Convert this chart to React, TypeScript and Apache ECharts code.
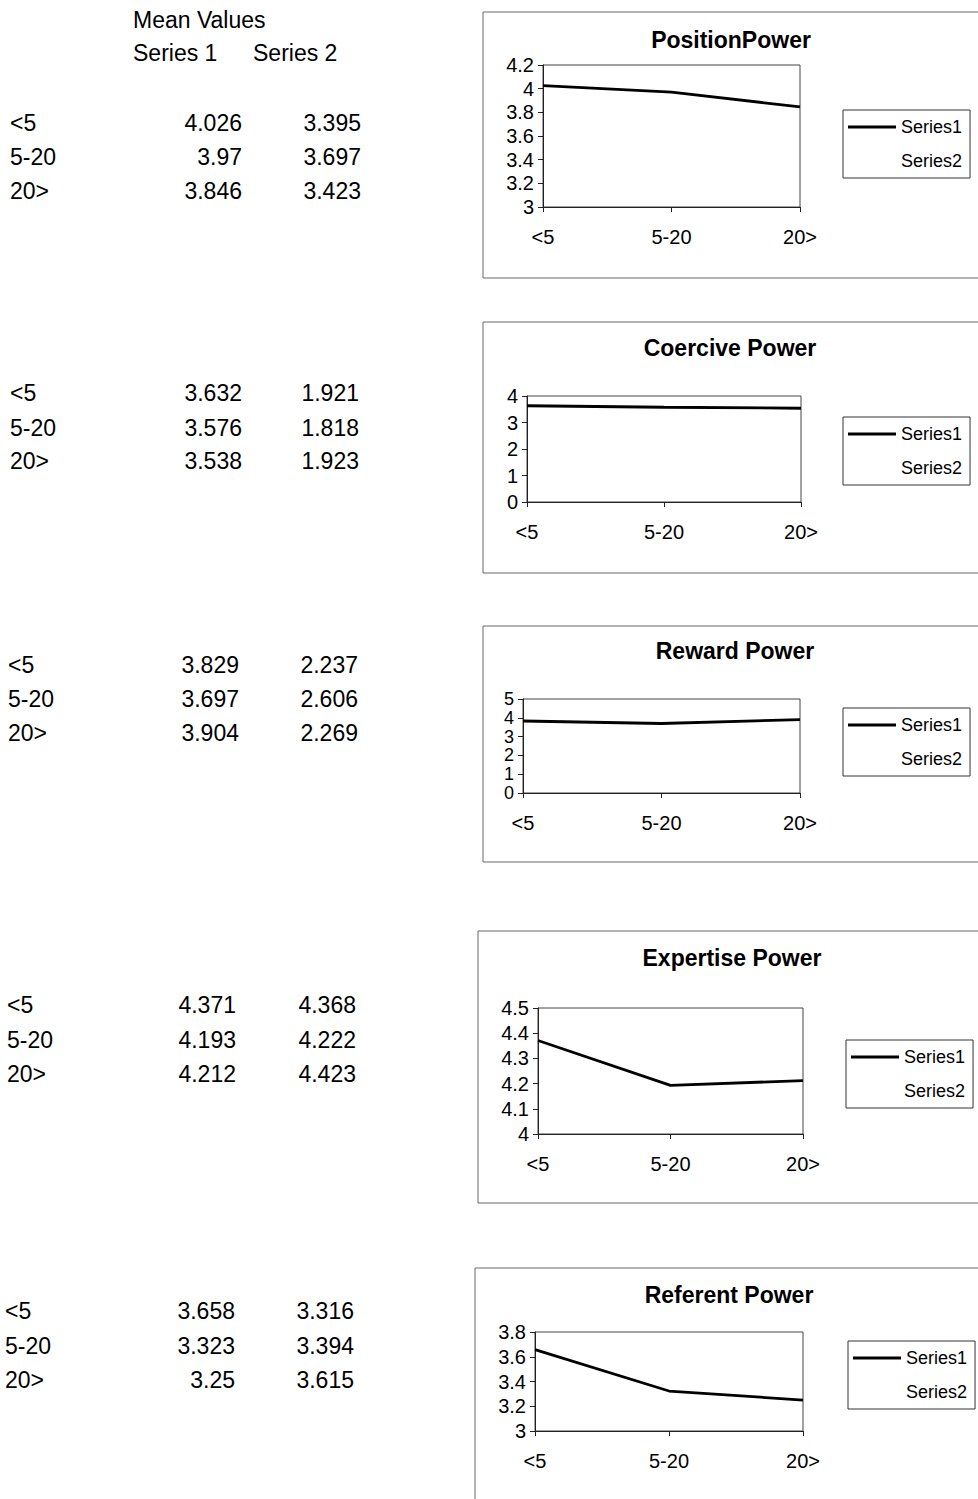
import React, { useEffect, useRef } from "react";
import * as echarts from "echarts";

const categories = ["<5", "5-20", "20>"];
const titles = ["PositionPower", "Coercive Power", "Reward Power", "Expertise Power", "Referent Power"];
const seriesNames = ["Series1", "Series2"];
const headerTitle = "Mean Values";
const headerCols = ["Series 1", "Series 2"];

const position1 = [4.026, 3.97, 3.846];
const position2 = [3.395, 3.697, 3.423];
const coercive1 = [3.632, 3.576, 3.538];
const coercive2 = [1.921, 1.818, 1.923];
const reward1 = [3.829, 3.697, 3.904];
const reward2 = [2.237, 2.606, 2.269];
const expertise1 = [4.371, 4.193, 4.212];
const expertise2 = [4.368, 4.222, 4.423];
const referent1 = [3.658, 3.323, 3.25];
const referent2 = [3.316, 3.394, 3.615];

const series1Values = [position1, coercive1, reward1, expertise1, referent1];
const series2Values = [position2, coercive2, reward2, expertise2, referent2];

const yMins = [3, 0, 0, 4, 3];
const yMaxs = [4.2, 4, 5, 4.5, 3.8];
const yIntervals = [0.2, 1, 1, 0.1, 0.2];

// layout (positions and sizes only)
const layout = [
  { box: [483, 12, 520, 266], grid: [543, 65, 257, 142], title: [731, 28], legend: [843, 110], rows: [123, 157, 191], labelX: 10, col1: 242, col2: 361, ySize: 20 },
  { box: [483, 322, 520, 251], grid: [527, 396, 274, 106], title: [730, 336], legend: [843, 417], rows: [393, 428, 461], labelX: 10, col1: 242, col2: 359, ySize: 20 },
  { box: [483, 626, 520, 236], grid: [523, 699, 277, 94], title: [735, 639], legend: [843, 708], rows: [665, 699, 733], labelX: 8, col1: 239, col2: 358, ySize: 18 },
  { box: [478, 931, 520, 272], grid: [538, 1008, 265, 126], title: [732, 946], legend: [846, 1040], rows: [1005, 1040, 1074], labelX: 7, col1: 236, col2: 356, ySize: 20 },
  { box: [475, 1268, 520, 260], grid: [535, 1332, 268, 99], title: [729, 1283], legend: [848, 1341], rows: [1311, 1346, 1380], labelX: 5, col1: 235, col2: 354, ySize: 20 },
];

const FONT = "'Liberation Sans', Arial, Helvetica, sans-serif";

export default function App() {
  const ref = useRef<HTMLDivElement>(null);

  useEffect(() => {
    if (!ref.current) return;
    const chart = echarts.init(ref.current, null, { renderer: "svg" });

    const txt = (x: number, y: number, text: string, align: string) => ({
      type: "text",
      x,
      y,
      style: { text, fontSize: 23, fontFamily: FONT, fill: "#000", align, verticalAlign: "middle" },
    });

    const graphic: any[] = [];
    graphic.push(txt(133, 20, headerTitle, "left"));
    graphic.push(txt(133, 53, headerCols[0], "left"));
    graphic.push(txt(253, 53, headerCols[1], "left"));

    layout.forEach((p, i) => {
      graphic.push({
        type: "rect",
        shape: { x: p.box[0], y: p.box[1], width: p.box[2], height: p.box[3] },
        style: { fill: "none", stroke: "#666", lineWidth: 1 },
        z: 0,
      });
      categories.forEach((c, r) => {
        graphic.push(txt(p.labelX, p.rows[r], c, "left"));
        graphic.push(txt(p.col1, p.rows[r], String(series1Values[i][r]), "right"));
        graphic.push(txt(p.col2, p.rows[r], String(series2Values[i][r]), "right"));
      });
    });

    const option: any = {
      animation: false,
      backgroundColor: "#fff",
      textStyle: { fontFamily: FONT },
      title: layout.map((p, i) => ({
        text: titles[i],
        left: p.title[0],
        top: p.title[1],
        textAlign: "center",
        padding: 0,
        textStyle: { fontSize: 23, fontWeight: "bold", color: "#000", fontFamily: FONT },
      })),
      legend: layout.map((p) => ({
        orient: "vertical",
        left: p.legend[0],
        top: p.legend[1],
        borderColor: "#333",
        borderWidth: 1,
        padding: [8, 8, 8, 5],
        itemWidth: 48,
        itemHeight: 3,
        itemGap: 16,
        selectedMode: false,
        textStyle: { fontSize: 18, color: "#000", fontFamily: FONT },
        data: [
          { name: seriesNames[0], icon: "rect", itemStyle: { color: "#000" } },
          { name: seriesNames[1], icon: "none" },
        ],
      })),
      grid: layout.map((p) => ({
        left: p.grid[0],
        top: p.grid[1],
        width: p.grid[2],
        height: p.grid[3],
        show: true,
        borderColor: "#444",
        borderWidth: 1,
        backgroundColor: "transparent",
      })),
      xAxis: layout.map((_, i) => ({
        type: "category",
        gridIndex: i,
        data: categories,
        boundaryGap: false,
        axisLine: { lineStyle: { color: "#222", width: 1 } },
        axisTick: { show: true, length: 5, lineStyle: { color: "#222" } },
        axisLabel: { color: "#000", fontSize: 20, margin: 20, fontFamily: FONT },
        splitLine: { show: false },
      })),
      yAxis: layout.map((p, i) => ({
        type: "value",
        gridIndex: i,
        min: yMins[i],
        max: yMaxs[i],
        interval: yIntervals[i],
        axisLine: { show: true, lineStyle: { color: "#222", width: 1 } },
        axisTick: { show: true, length: 5, lineStyle: { color: "#222" } },
        axisLabel: {
          color: "#000",
          fontSize: p.ySize,
          lineHeight: p.ySize - 2,
          margin: 9,
          fontFamily: FONT,
          showMinLabel: true,
          showMaxLabel: true,
          hideOverlap: false,
        },
        splitLine: { show: false },
      })),
      series: layout.flatMap((_, i) => [
        {
          name: seriesNames[0],
          type: "line",
          xAxisIndex: i,
          yAxisIndex: i,
          data: series1Values[i],
          symbol: "none",
          lineStyle: { color: "#000", width: 2.8 },
          itemStyle: { color: "#000" },
        },
        {
          name: seriesNames[1],
          type: "line",
          xAxisIndex: i,
          yAxisIndex: i,
          data: series2Values[i],
          symbol: "none",
          lineStyle: { color: "#fff", width: 2.5, opacity: 0 },
          itemStyle: { color: "#fff" },
        },
      ]),
      graphic,
    };

    chart.setOption(option);
    return () => chart.dispose();
  }, []);

  return (
    <div
      ref={ref}
      style={{ position: "absolute", left: 0, top: 0, width: 978, height: 1499, background: "#fff" }}
    />
  );
}
